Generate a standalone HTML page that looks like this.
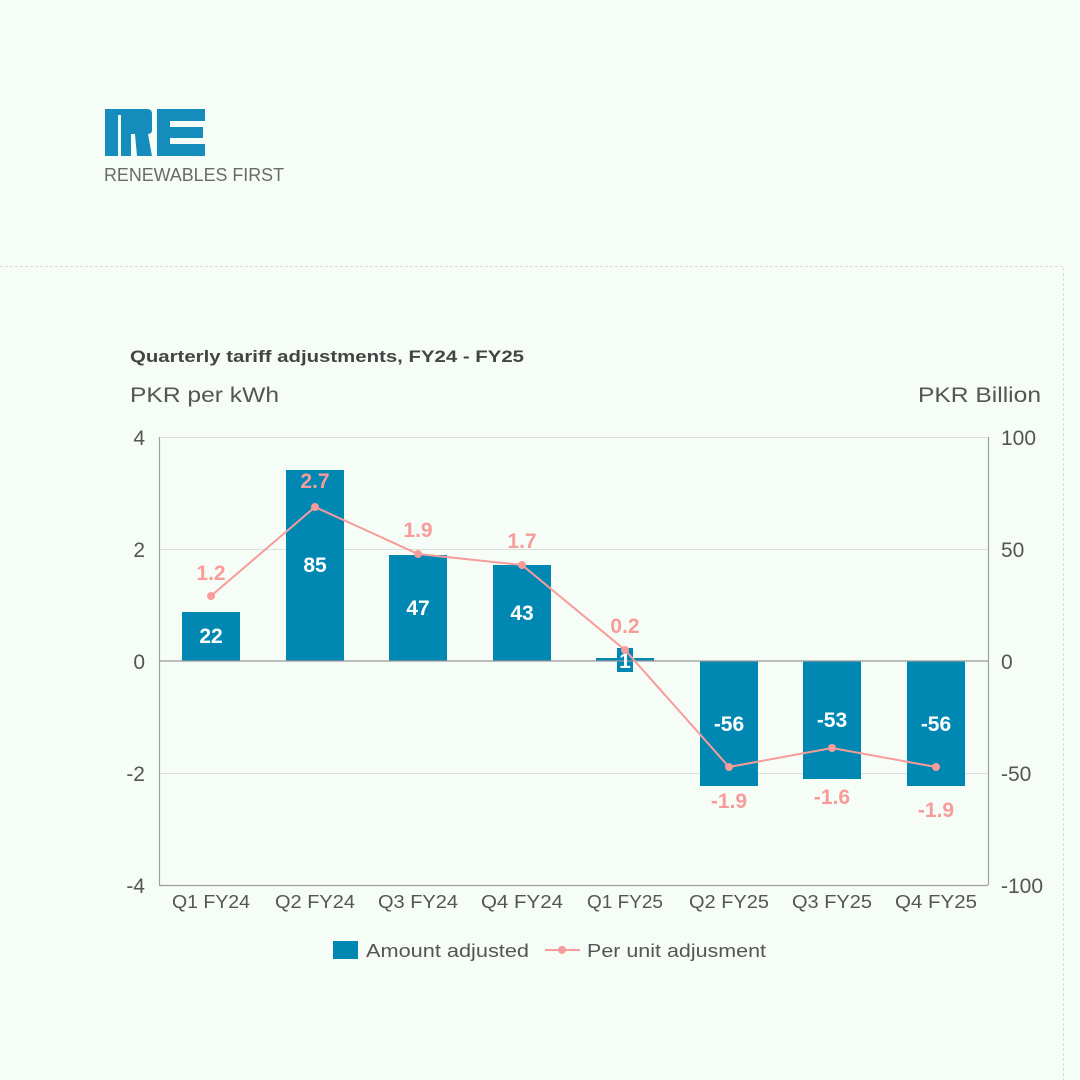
<!DOCTYPE html>
<html><head><meta charset="utf-8"><style>
body{margin:0;background:#f5fdf6;}
svg{display:block;font-family:"Liberation Sans",sans-serif;}
</style></head><body>
<svg width="1080" height="1080" viewBox="0 0 1080 1080">
<rect width="1080" height="1080" fill="#f5fdf6"/>
<!-- logo -->
<g fill="#168cbc">
<path d="M105 109 H147 Q152 109 152 114 V130 Q152 134 148 134 L152 156 H137 L135 134 H131 V156 H118 V128 L121 122 H118 V156 H105 Z"/>
<path d="M157 109 H205 V121 H170 V127 H203 V138 H170 V144 H205 V156 H157 Z"/>
</g>
<rect x="118" y="115" width="3" height="41" fill="#f5fdf6"/>
<text x="104" y="181" font-size="18" fill="#6a6a6a" textLength="180" lengthAdjust="spacingAndGlyphs">RENEWABLES FIRST</text>
<!-- panel border -->
<path d="M0 266.5 H1063.5 V1080" fill="none" stroke="#dcdcdc" stroke-dasharray="3 2"/>
<text x="130" y="362" font-size="17" font-weight="bold" fill="#444" textLength="394" lengthAdjust="spacingAndGlyphs">Quarterly tariff adjustments, FY24 - FY25</text>
<text x="130" y="402" font-size="21" fill="#555" textLength="149" lengthAdjust="spacingAndGlyphs">PKR per kWh</text>
<text x="1041" y="402" font-size="21" fill="#555" text-anchor="end" textLength="123" lengthAdjust="spacingAndGlyphs">PKR Billion</text>
<!-- grid -->
<g stroke="#dedede" stroke-width="1">
<line x1="160" y1="437.5" x2="988" y2="437.5"/>
<line x1="160" y1="549.5" x2="988" y2="549.5"/>
<line x1="160" y1="773.5" x2="988" y2="773.5"/>
</g>
<g stroke="#a0a0a0" stroke-width="1.2">
<line x1="159.5" y1="437" x2="159.5" y2="885"/>
<line x1="988.5" y1="437" x2="988.5" y2="885"/>
<line x1="159" y1="885.5" x2="988" y2="885.5"/>
</g>
<g font-size="21" fill="#555">
<g text-anchor="end"><text x="145" y="445">4</text><text x="145" y="557">2</text><text x="145" y="669">0</text><text x="145" y="781">-2</text><text x="145" y="893">-4</text></g>
<g><text x="1001" y="445">100</text><text x="1001" y="557">50</text><text x="1001" y="669">0</text><text x="1001" y="781">-50</text><text x="1001" y="893">-100</text></g>
</g>
<!-- bars -->
<g fill="#0088b3">
<rect x="182" y="612" width="58" height="49"/>
<rect x="286" y="470" width="58" height="191"/>
<rect x="389" y="555" width="58" height="106"/>
<rect x="493" y="565" width="58" height="96"/>
<rect x="596" y="658" width="58" height="3"/>
<rect x="700" y="661" width="58" height="125"/>
<rect x="803" y="661" width="58" height="118"/>
<rect x="907" y="661" width="58" height="125"/>
<rect x="617" y="648" width="16" height="24"/>
</g>
<line x1="159" y1="661" x2="988" y2="661" stroke="#999" stroke-width="1.2"/>
<g font-size="21" font-weight="bold" fill="#fff" text-anchor="middle">
<text x="211" y="643">22</text><text x="315" y="572">85</text><text x="418" y="615">47</text><text x="522" y="620">43</text><text x="625" y="668">1</text>
<text x="729" y="731">-56</text><text x="832" y="727">-53</text><text x="936" y="731">-56</text>
</g>
<polyline points="211,596 315,507 418,554 522,565 625,650 729,767 832,748 936,767" fill="none" stroke="#f79b9b" stroke-width="2"/>
<g fill="#f79b9b">
<circle cx="211" cy="596" r="4"/><circle cx="315" cy="507" r="4"/><circle cx="418" cy="554" r="4"/><circle cx="522" cy="565" r="4"/><circle cx="625" cy="650" r="4"/><circle cx="729" cy="767" r="4"/><circle cx="832" cy="748" r="4"/><circle cx="936" cy="767" r="4"/>
</g>
<g font-size="21" font-weight="bold" fill="#f79b9b" text-anchor="middle">
<text x="211" y="580">1.2</text><text x="315" y="488">2.7</text><text x="418" y="537">1.9</text><text x="522" y="548">1.7</text><text x="625" y="633">0.2</text>
<text x="729" y="808">-1.9</text><text x="832" y="804">-1.6</text><text x="936" y="817">-1.9</text>
</g>
<g font-size="18" fill="#555" text-anchor="middle">
<text x="211" y="908" textLength="78" lengthAdjust="spacingAndGlyphs">Q1 FY24</text><text x="315" y="908" textLength="80" lengthAdjust="spacingAndGlyphs">Q2 FY24</text><text x="418" y="908" textLength="80" lengthAdjust="spacingAndGlyphs">Q3 FY24</text><text x="522" y="908" textLength="82" lengthAdjust="spacingAndGlyphs">Q4 FY24</text>
<text x="625" y="908" textLength="76" lengthAdjust="spacingAndGlyphs">Q1 FY25</text><text x="729" y="908" textLength="80" lengthAdjust="spacingAndGlyphs">Q2 FY25</text><text x="832" y="908" textLength="80" lengthAdjust="spacingAndGlyphs">Q3 FY25</text><text x="936" y="908" textLength="82" lengthAdjust="spacingAndGlyphs">Q4 FY25</text>
</g>
<rect x="333" y="941" width="25" height="18" fill="#0088b3"/>
<text x="366" y="957" font-size="18" fill="#555" textLength="163" lengthAdjust="spacingAndGlyphs">Amount adjusted</text>
<line x1="545" y1="950" x2="580" y2="950" stroke="#f79b9b" stroke-width="2"/>
<circle cx="562" cy="950" r="4" fill="#f79b9b"/>
<text x="587" y="957" font-size="18" fill="#555" textLength="179" lengthAdjust="spacingAndGlyphs">Per unit adjusment</text>
</svg>
</body></html>
